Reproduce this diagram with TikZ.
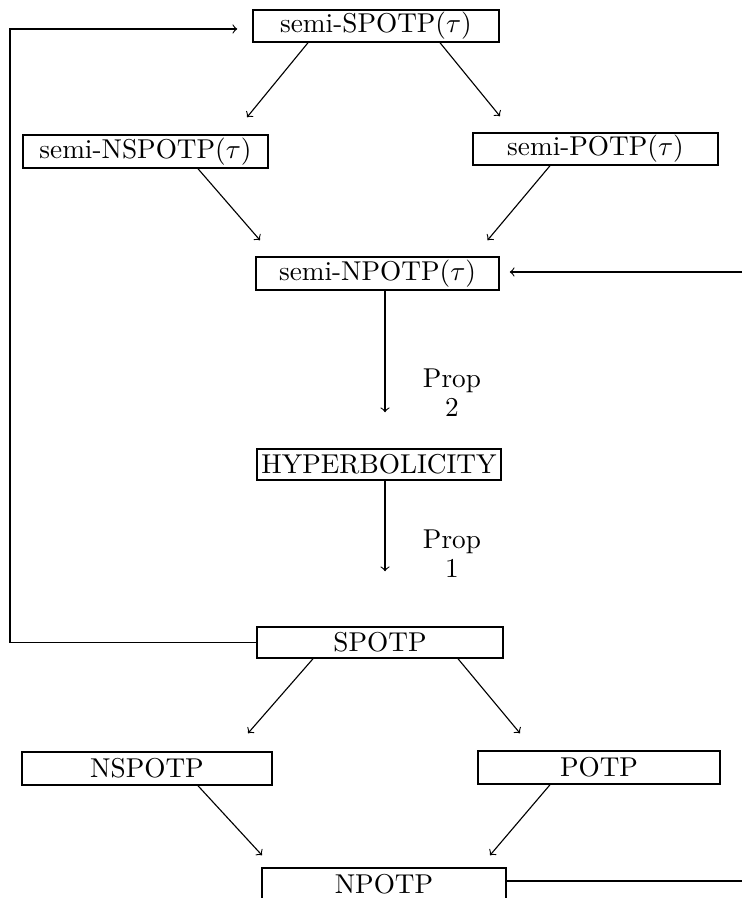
\documentclass[tikz,border=0pt]{standalone}
\usetikzlibrary{calc}
\begin{document}
\begin{tikzpicture}[x=0.4pt,y=-0.4pt,
  font=\fontsize{10.9}{11.6}\selectfont,
  box/.style={draw, line width=0.6pt, inner sep=0pt},
  conn/.style={line width=0.45pt, ->},
  plain/.style={line width=0.45pt}]
\useasboundingbox (0,0) rectangle (742,898);
\clip (0,0) rectangle (742,898);
% boxes
\node[box, minimum width=98.4pt, minimum height=12.8pt] (top) at (376,26) {semi-SPOTP$(\tau)$};
\node[box, minimum width=98pt, minimum height=13.2pt] (nsl) at (145.5,151.5) {semi-NSPOTP$(\tau)$};
\node[box, minimum width=98pt, minimum height=12.8pt] (spr) at (595.5,149) {semi-POTP$(\tau)$};
\node[box, minimum width=97.2pt, minimum height=13.2pt] (snp) at (377.5,273.5) {semi-NPOTP$(\tau)$};
\node[box, minimum width=97.6pt, minimum height=12.4pt] (hyp) at (379,464.5) {HYPERBOLICITY};
\node[box, minimum width=98.4pt, minimum height=12.4pt] (spotp) at (380,642.5) {SPOTP};
\node[box, minimum width=100pt, minimum height=13.2pt] (nspotp) at (147,768.5) {NSPOTP};
\node[box, minimum width=96.8pt, minimum height=13.2pt] (potp) at (599,767.5) {POTP};
\node[box, minimum width=97.6pt, minimum height=13.2pt] (npotp) at (384,884.5) {NPOTP};
% labels
\node[align=center] (p2) at (452,393) {Prop\\2};
\node[align=center] (p1) at (452,554) {Prop\\1};
% edge coordinates
\coordinate (loopL) at (10,29);
\coordinate (rin) at (742,272);
\coordinate (rout) at (742,881);
% connectors
\draw[conn] ($(top.south)+(-68,0)$) -- ($(nsl.north)+(101.5,-17)$);
\draw[conn] ($(top.south)+(64,0)$) -- ($(spr.north)+(-95.5,-16)$);
\draw[conn] ($(nsl.south)+(52.5,0)$) -- ($(snp.north)+(-117.5,-16)$);
\draw[conn] ($(spr.south)+(-45.5,0)$) -- ($(snp.north)+(110,-16)$);
\draw[conn] ($(snp.south)+(7.5,0)$) -- ($(hyp.north)+(6,-36)$);
\draw[conn] ($(hyp.south)+(6,0)$) -- ($(spotp.north)+(5,-55)$);
\draw[conn] (spotp.west) -| (loopL) -- ($(top.west |- loopL)+(-15,0)$);
\draw[conn] ($(spotp.south)+(-67,0)$) -- ($(nspotp.north)+(101,-18)$);
\draw[conn] ($(spotp.south)+(78,0)$) -- ($(potp.north)+(-79,-17)$);
\draw[conn] ($(nspotp.south)+(51,0)$) -- ($(npotp.north)+(-122,-12)$);
\draw[conn] ($(potp.south)+(-49,0)$) -- ($(npotp.north)+(106,-12)$);
\draw[conn] (rin) -- ($(snp.east |- rin)+(10,0)$);
\draw[plain] (npotp.east |- rout) -- (rout);
\end{tikzpicture}
\end{document}
